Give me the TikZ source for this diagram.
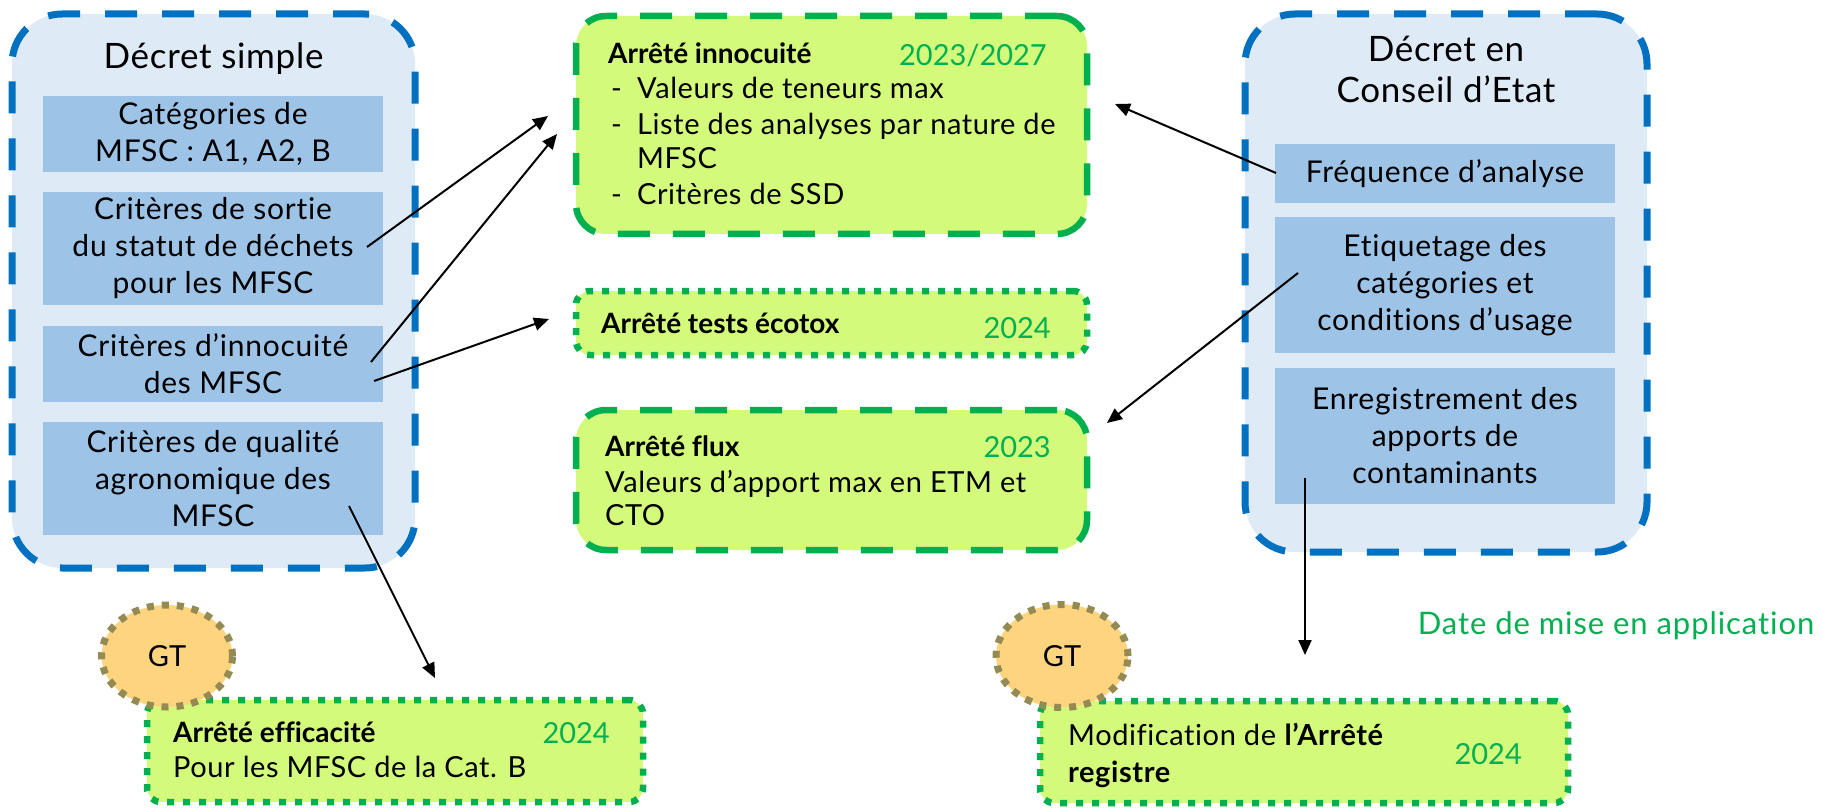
\documentclass[tikz,border=0pt]{standalone}
\usepackage{fontspec}
\setmainfont{Lato}[Ligatures=CommonOff]
\usetikzlibrary{shapes.geometric,arrows.meta}
\definecolor{cblue}{HTML}{0070C0}
\definecolor{cfill}{HTML}{DEEBF7}
\definecolor{innerblue}{HTML}{9DC3E6}
\definecolor{limefill}{HTML}{D4FA7C}
\definecolor{mygreen}{HTML}{00B050}
\definecolor{gtfill}{HTML}{FFD47E}
\definecolor{gtborder}{HTML}{948A54}
\newcommand\fbody{\fontsize{30}{37}\selectfont\addfontfeature{LetterSpace=2.5}}
\newcommand\fmid{\fontsize{29}{35}\selectfont\addfontfeature{LetterSpace=2}}
\newcommand\ftitle{\fontsize{35}{41}\selectfont\addfontfeature{LetterSpace=2}}
\newcommand\flabel{\fontsize{28}{34}\selectfont\bfseries}
\newcommand\fyear{\fontsize{29}{35}\selectfont}
\newcommand\fdate{\fontsize{31}{37}\selectfont\addfontfeature{LetterSpace=3}}
\begin{document}
\begin{tikzpicture}[x=1pt,y=-1pt,
  container/.style={draw=cblue,fill=cfill,line width=7pt,dash pattern=on 32pt off 25pt,rounded corners=50pt,inner sep=0pt},
  innerbox/.style={fill=innerblue,inner sep=0pt,align=center,font=\fbody,minimum width=340pt},
  arrete/.style={draw=mygreen,fill=limefill,line width=6.5pt,dash pattern=on 32pt off 23pt,rounded corners=30pt,inner sep=0pt},
  arretedot/.style={draw=mygreen,fill=limefill,line width=6.5pt,dash pattern=on 7pt off 9pt,rounded corners=14pt,inner sep=0pt},
  gt/.style={ellipse,draw=gtborder,fill=gtfill,line width=7pt,dash pattern=on 7pt off 8pt,inner sep=0pt,font=\fontsize{29}{34}\selectfont},
  lbl/.style={anchor=base west,inner sep=0pt,font=\flabel},
  yr/.style={anchor=base east,inner sep=0pt,font=\fyear,text=mygreen},
  txt/.style={anchor=base west,inner sep=0pt,font=\fmid},
  arr/.style={-{Triangle[length=15pt,width=13pt]},line width=2pt,draw=black}
]
\useasboundingbox (0,0) rectangle (1822,810);

% left container
\node[container,minimum width=403pt,minimum height=554pt] (L) at (213.5,291) {};
\node[anchor=base,inner sep=0pt,font=\ftitle] (Lt) at (213.5,69) {Décret simple};
\node[innerbox,minimum height=76pt] (b1) at (213,134) {Catégories de\\MFSC : A1, A2, B};
\node[innerbox,minimum height=113pt] (b2) at (213,248.5) {Critères de sortie\\du statut de déchets\\pour les MFSC};
\node[innerbox,minimum height=76pt] (b3) at (213,364) {Critères d’innocuité\\des MFSC};
\node[innerbox,minimum height=113pt] (b4) at (213,478.5) {Critères de qualité\\agronomique des\\MFSC};

% right container
\node[container,minimum width=402pt,minimum height=538pt] (R) at (1446,283) {};
\node[anchor=base,inner sep=0pt,font=\ftitle] (Rt1) at (1446,62) {Décret en};
\node[anchor=base,inner sep=0pt,font=\ftitle] (Rt2) at (1446,103) {Conseil d’Etat};
\node[innerbox,minimum height=59pt] (f1) at (1445,173.5) {Fréquence d’analyse};
\node[innerbox,minimum height=136pt] (e1) at (1445,285) {Etiquetage des\\catégories et\\conditions d’usage};
\node[innerbox,minimum height=136pt] (r1) at (1445,436) {Enregistrement des\\apports de\\contaminants};

% middle boxes
\node[arrete,minimum width=511pt,minimum height=218pt] (inno) at (831.5,125) {};
\node[lbl] (innoT) at (608,64) {Arrêté innocuité};
\node[yr] (innoY) at (1047,66) {2023/2027};
\node[txt] (d1) at (611,99) {-};
\node[txt] (i1) at (637,99) {Valeurs de teneurs max};
\node[txt] (d2) at (611,135) {-};
\node[txt] (i2) at (637,135) {Liste des analyses par nature de};
\node[txt] (i3) at (637,169) {MFSC};
\node[txt] (d3) at (611,205) {-};
\node[txt] (i4) at (637,205) {Critères de SSD};

\node[arretedot,minimum width=511pt,minimum height=64pt] (eco) at (831.5,323) {};
\node[lbl] (ecoT) at (601,333) {Arrêté tests écotox};
\node[yr] (ecoY) at (1051,338) {2024};

\node[arrete,minimum width=511pt,minimum height=140pt] (flux) at (831.5,480) {};
\node[lbl] (fluxT) at (605,456) {Arrêté flux};
\node[yr] (fluxY) at (1051,457) {2023};
\node[txt] (fl1) at (605,492) {Valeurs d’apport max en ETM et};
\node[txt] (fl2) at (605,525) {CTO};

% bottom boxes
\node[arretedot,minimum width=496pt,minimum height=102pt] (eff) at (395,751) {};
\node[lbl] (effT) at (173,742) {Arrêté efficacité};
\node[yr] (effY) at (610,743) {2024};
\node[txt] (eff1) at (173,777) {Pour les MFSC de la Cat. B};

\node[arretedot,minimum width=528pt,minimum height=102pt] (mod) at (1304,752) {};
\node[txt] (mod1) at (1068,745) {Modification de \textbf{l’Arrêté}};
\node[txt,font=\fmid\bfseries] (mod2) at (1068,782) {registre};
\node[yr] (modY) at (1522,764) {2024};

\node[gt,minimum width=131pt,minimum height=102pt] (gt1) at (167,656) {GT};
\node[gt,minimum width=132pt,minimum height=103pt] (gt2) at (1062,656) {GT};

\node[anchor=base,inner sep=0pt,font=\fdate,text=mygreen] (date) at (1616,634) {Date de mise en application};

% arrows
\coordinate (s1) at (367,247); \coordinate (t1) at (548,116);
\coordinate (s2) at (371,362); \coordinate (t2) at (557,134);
\coordinate (s3) at (374,381); \coordinate (t3) at (549,319);
\coordinate (s4) at (1276,173); \coordinate (t4) at (1115,104);
\coordinate (s5) at (1298,273); \coordinate (t5) at (1107,423);
\coordinate (s6) at (1305,478); \coordinate (t6) at (1305,655);
\coordinate (s7) at (349,506); \coordinate (t7) at (435,678);
\draw[arr] (s1) -- (t1);
\draw[arr] (s2) -- (t2);
\draw[arr] (s3) -- (t3);
\draw[arr] (s4) -- (t4);
\draw[arr] (s5) -- (t5);
\draw[arr] (s6) -- (t6);
\draw[arr] (s7) -- (t7);
\end{tikzpicture}
\end{document}
